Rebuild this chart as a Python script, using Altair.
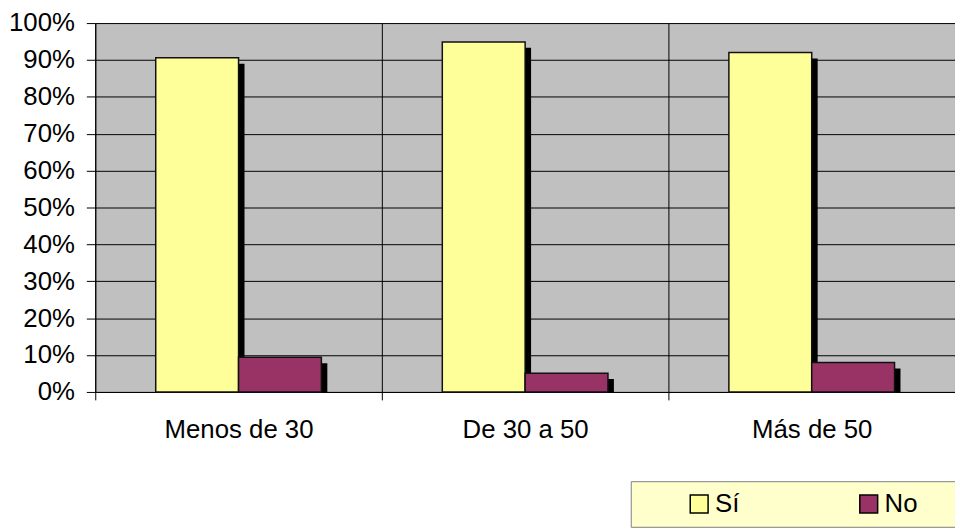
import altair as alt
import pandas as pd

categories = ["Menos de 30", "De 30 a 50", "Más de 50"]
series = ["Sí", "No"]
si_values = [0.906, 0.949, 0.920]
no_values = [0.094, 0.051, 0.080]
y_ticks = [0.0, 0.1, 0.2, 0.3, 0.4, 0.5, 0.6, 0.7, 0.8, 0.9, 1.0]
series_colors = ["#FFFF99", "#993366"]

rows = []
for cat, s_val, n_val in zip(categories, si_values, no_values):
    rows.append({"grupo": cat, "respuesta": "Sí", "valor": s_val})
    rows.append({"grupo": cat, "respuesta": "No", "valor": n_val})
df = pd.DataFrame(rows)

FONT = "Liberation Sans"
W = 867
H = 372
SH = 6  # shadow offset in pixels
PAD_OUT = 0.73
# trailing non-breaking spaces (kept from trimming by a zero-width space) widen the legend frame
TAIL = "\u00a0" * 5 + "\u200b"

axis_common = dict(
    labelFont=FONT,
    labelFontSize=26,
    labelColor="black",
    domainColor="black",
    tickColor="black",
    gridColor="black",
    gridWidth=1,
    grid=True,
    title=None,
)

x_enc = alt.X(
    "grupo:N",
    sort=categories,
    scale=alt.Scale(paddingInner=0, paddingOuter=0),
    axis=alt.Axis(labelAngle=0, tickBand="extent", tickSize=8, labelPadding=17, **axis_common),
)
xoff_enc = alt.XOffset(
    "respuesta:N",
    sort=series,
    scale=alt.Scale(paddingInner=0, paddingOuter=PAD_OUT),
)
y_enc = alt.Y(
    "valor:Q",
    scale=alt.Scale(domain=[0, 1], nice=False),
    axis=alt.Axis(format="%", values=y_ticks, tickSize=9, labelPadding=12, **axis_common),
)

# shadow: same data, scales shifted a few pixels right and down
x_sh = alt.X(
    "grupo:N",
    sort=categories,
    scale=alt.Scale(paddingInner=0, paddingOuter=0, range=[SH, W + SH]),
    axis=None,
)
xoff_sh = alt.XOffset(
    "respuesta:N",
    sort=series,
    scale=alt.Scale(paddingInner=0, paddingOuter=PAD_OUT),
)
y_sh = alt.Y(
    "valor:Q",
    scale=alt.Scale(domain=[0, 1], nice=False, range=[H + SH, SH]),
    axis=None,
)

base = alt.Chart(df)

shadow = base.mark_bar(color="black", clip=True).encode(x=x_sh, xOffset=xoff_sh, y=y_sh)

bars = base.mark_bar(stroke="#111111", strokeWidth=1.5).encode(
    x=x_enc,
    xOffset=xoff_enc,
    y=y_enc,
    color=alt.Color(
        "respuesta:N",
        sort=series,
        scale=alt.Scale(domain=series, range=series_colors),
        legend=alt.Legend(
            title=None,
            orient="none",
            legendX=540,
            legendY=462,
            direction="horizontal",
            fillColor="#FFFFCC",
            strokeColor="#808080",
            padding=10,
            symbolType="square",
            symbolSize=324,
            symbolStrokeColor="black",
            symbolStrokeWidth=1.5,
            symbolOpacity=1,
            symbolOffset=46,
            labelOffset=3,
            columnPadding=71,
            labelFontSize=26,
            labelFont=FONT,
            labelColor="black",
            labelExpr="datum.label == 'No' ? 'No" + TAIL + "' : datum.label",
        ),
    ),
)

chart = (
    alt.layer(shadow, bars)
    .resolve_scale(x="independent", y="independent", xOffset="independent")
    .properties(
        width=W,
        height=H,
        autosize=alt.AutoSizeParams(type="none"),
        padding={"left": 88, "top": 13, "right": 0, "bottom": 135},
    )
    .configure_view(fill="#C0C0C0", stroke=None)
)

chart.save("out.html", embed_options={"renderer": "svg", "actions": False})
